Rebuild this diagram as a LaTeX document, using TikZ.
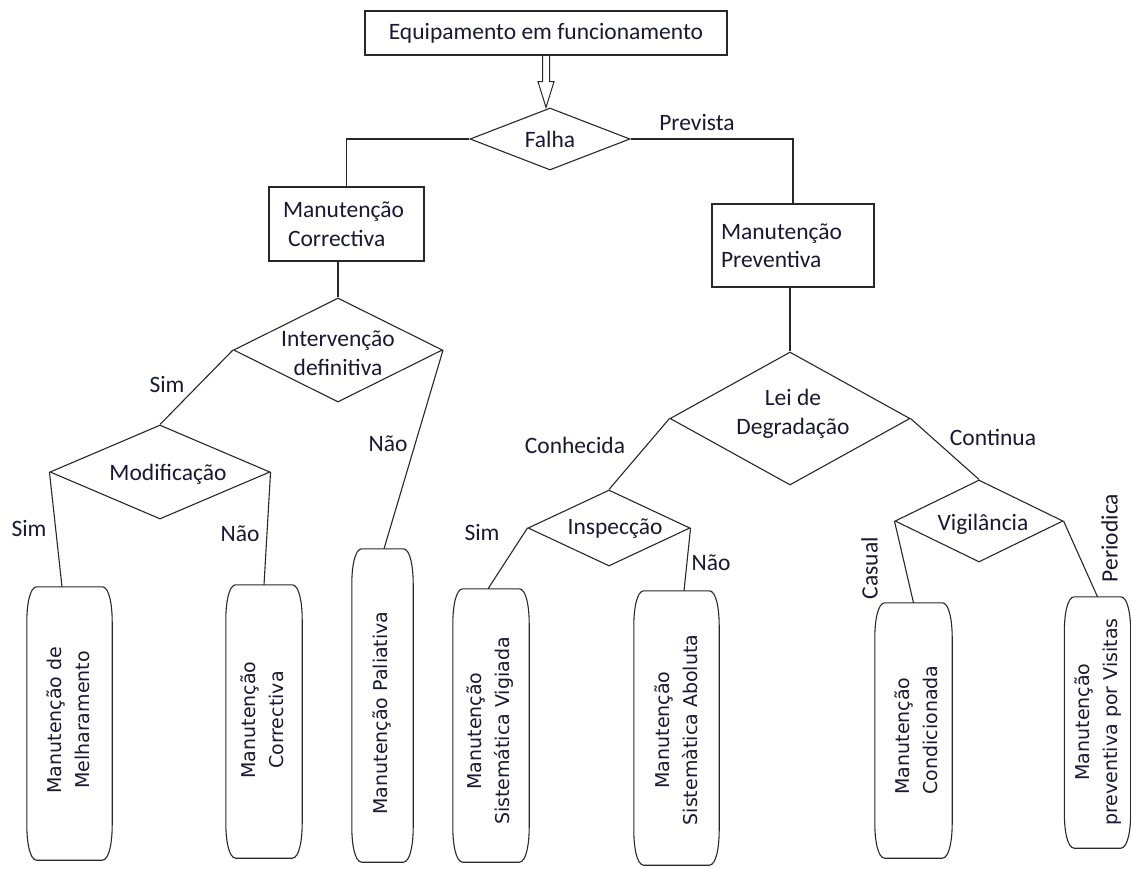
\documentclass[tikz,border=0pt]{standalone}
\usepackage{fontspec}
\setmainfont{Carlito}
\newfontfamily\rotfont{DejaVu Sans}
\usetikzlibrary{shapes.geometric,calc}
\definecolor{ink}{RGB}{40,40,40}
\definecolor{txt}{RGB}{25,25,50}
\tikzset{
  base/.style={font=\fontsize{23.5}{28.5}\selectfont, text=txt},
  lbl/.style={base, inner sep=0pt, text height=15pt, text depth=0pt},
  rectbox/.style={base, draw=ink, line width=1.3pt, rectangle, inner ysep=0pt},
  dia/.style={diamond, draw=ink, line width=1.1pt, inner sep=0pt},
  frame/.style={draw=none, inner sep=0pt, rectangle},
  vtext/.style={rotate=90, align=center, inner sep=0pt, text=txt,
                font=\rotfont\fontsize{19}{28}\selectfont},
  wire/.style={draw=ink, line width=1.1pt},
}
% rounded "barrel" outline drawn around a frame node
\newcommand\barrel[1]{%
  \draw[wire] let \p1=(#1.north west), \p2=(#1.south east) in
   ({\x1+10pt},\y1) -- ({\x2-10pt},\y1)
   .. controls ({\x2-3pt},\y1) and (\x2,{\y1-18pt}) .. (\x2,{\y1-35pt})
   -- (\x2,{\y2+35pt})
   .. controls (\x2,{\y2+18pt}) and ({\x2-3pt},\y2) .. ({\x2-10pt},\y2)
   -- ({\x1+10pt},\y2)
   .. controls ({\x1+3pt},\y2) and (\x1,{\y2+18pt}) .. (\x1,{\y2+35pt})
   -- (\x1,{\y1-35pt})
   .. controls (\x1,{\y1-18pt}) and ({\x1+3pt},\y1) .. cycle;}

\begin{document}
\begin{tikzpicture}[x=1pt,y=-1pt]
\useasboundingbox (0,0) rectangle (1131,868);
\fill[white] (0,0) rectangle (1131,868);

% top of the tree
\node[rectbox, minimum width=362, minimum height=44] (top) at (546,33) {Equipamento em funcionamento};
\node[dia, minimum width=160, minimum height=62] (falha) at (550,139) {};
\node[lbl] (falhaT) at (550,140) {Falha};
\draw[ink, line width=1pt, line join=miter] let \p1=(top.south), \p2=(falha.north) in
  ({\x1-3.5pt},\y1) -- ({\x1-3.5pt},{\y1-26pt}) -- ({\x1-8pt},{\y1-26pt}) -- (\x1,\y2)
  -- ({\x1+8pt},{\y1-26pt}) -- ({\x1+3.5pt},{\y1-26pt}) -- ({\x1+3.5pt},\y1);

% corrective / preventive
\node[rectbox, text width=127pt, inner xsep=14pt, minimum height=74, align=left] (corr) at (346.5,224)
  {Manutenção\\\hspace*{5pt}Correctiva};
\node[rectbox, text width=144pt, inner xsep=9pt, minimum height=83, align=left] (prev) at (793,245.5)
  {Manutenção\\Preventiva};
\draw[wire] (falha.west) -| (corr.north);
\draw[wire] (falha.east) -| (prev.north);
\node[lbl] (prevista) at (697,123) {Prevista};

% corrective branch
\node[dia, minimum width=209, minimum height=104] (interv) at (338,350) {};
\node[base, align=center, inner sep=0pt] (intervT) at (338,353) {Intervenção\\definitiva};
\draw[wire] (interv.north |- corr.south) -- (interv.north);

\node[dia, minimum width=220, minimum height=94] (modif) at (160,472) {};
\node[lbl] (modifT) at (168,473) {Modificação};
\draw[wire] (interv.west) -- (modif.north);
\node[lbl] (sim1) at (167,385) {Sim};

% preventive branch
\node[dia, minimum width=240, minimum height=133] (lei) at (790,418.5) {};
\node[base, align=center, inner sep=0pt] (leiT) at (793,414) {Lei de\\Degradação};
\draw[wire] (lei.north |- prev.south) -- (lei.north);

\node[dia, minimum width=162, minimum height=76] (insp) at (609,528) {};
\node[lbl] (inspT) at (615,527) {Inspecção};
\draw[wire] (lei.west) -- (insp.north);
\node[lbl] (conh) at (575,446) {Conhecida};

\node[dia, minimum width=168, minimum height=82] (vigil) at (979,521) {};
\node[lbl] (vigilT) at (983,523) {Vigilância};
\draw[wire] (lei.east) -- (vigil.north);
\node[lbl] (cont) at (993,438) {Continua};

% leaves
\node[frame, minimum width=85, minimum height=273] (melh) at (69.5,723.5) {};
\node[vtext] (melhT) at (68,720) {Manutenção de\\Melharamento};
\node[frame, minimum width=76, minimum height=273] (corr2) at (264,721.5) {};
\node[vtext] (corr2T) at (262,720) {Manutenção\\Correctiva};
\node[frame, minimum width=61, minimum height=313] (palia) at (382.5,705.5) {};
\node[vtext] (paliaT) at (382,713) {Manutenção Paliativa};
\node[frame, minimum width=76, minimum height=273] (vigia) at (491,725.5) {};
\node[vtext] (vigiaT) at (490,731) {Manutenção\\Sistemática Vigiada};
\node[frame, minimum width=85, minimum height=274] (abol) at (676.5,728) {};
\node[vtext] (abolT) at (676,730) {Manutenção\\Sistemàtica Aboluta};
\node[frame, minimum width=77, minimum height=255] (cond) at (913.5,730.5) {};
\node[vtext, align=left] (condT) at (916,730) {Manutenção\\Condicionada};
\node[frame, minimum width=66, minimum height=251] (visit) at (1097.5,722.5) {};
\node[vtext] (visitT) at (1098,722) {Manutenção\\preventiva por Visitas};

\foreach \b in {melh,corr2,palia,vigia,abol,cond,visit} {\barrel{\b}}

% leaf connectors and their labels
\draw[wire] (modif.west) -- ([xshift=-7.5pt]melh.north);
\node[lbl] (sim2) at (29,529) {Sim};
\draw[wire] (modif.east) -- (corr2.north);
\node[lbl] (nao2) at (240,534) {Não};
\draw[wire] (interv.east) -- ([xshift=1.5pt]palia.north);
\node[lbl] (nao1) at (388,444) {Não};
\draw[wire] (insp.west) -- ([xshift=-3pt]vigia.north);
\node[lbl] (sim3) at (482,533) {Sim};
\draw[wire] (insp.east) -- ([xshift=7.5pt]abol.north);
\node[lbl] (nao3) at (711,563) {Não};
\draw[wire] (vigil.west) -- (cond.north);
\node[lbl, rotate=90] (casual) at (870,568) {Casual};
\draw[wire] (vigil.east) -- (visit.north);
\node[lbl, rotate=90] (period) at (1110,538) {Periodica};
\end{tikzpicture}
\end{document}
